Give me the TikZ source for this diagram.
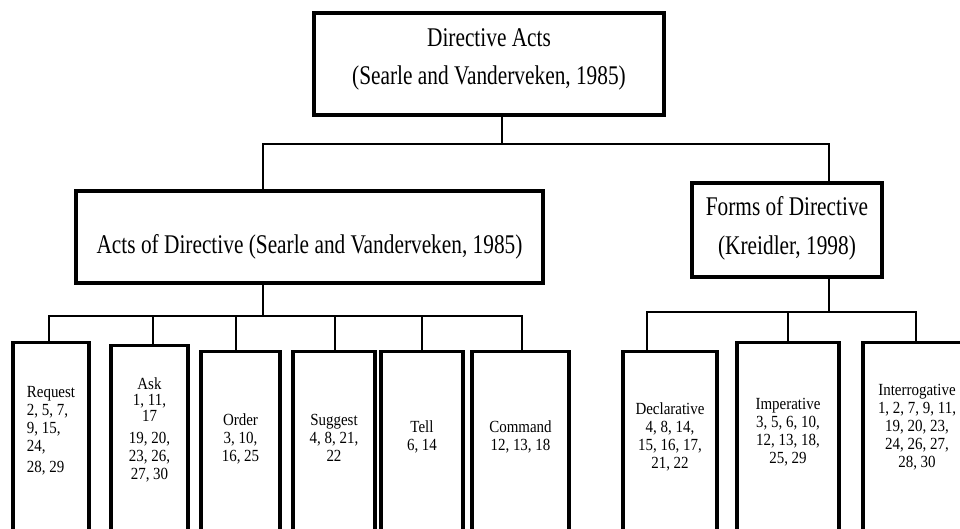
\documentclass[tikz,border=0pt]{standalone}
\usepackage{fontspec}
\setmainfont{Liberation Serif}
\newfontfamily\headfont[FakeStretch=0.79]{Liberation Serif}
\newfontfamily\leaffont[FakeStretch=0.88]{Liberation Serif}
\tikzset{
    % the boxes of the tree, drawn with a heavy border
    bigbox/.style={draw, line width=1.6pt, inner sep=0pt},
    leafbox/.style={draw, line width=1.6pt, inner sep=0pt, anchor=north,
                    minimum height=100pt},
    headtext/.style={align=center, inner sep=0pt,
                     font=\headfont\fontsize{13.5}{19}\selectfont},
    leaftext/.style={align=center, inner sep=0pt,
                     font=\leaffont\fontsize{8.5}{9}\selectfont},
    link/.style={line width=0.65pt}
}

\begin{document}
\begin{tikzpicture}[x=0.5pt,y=-0.5pt]

  \useasboundingbox (0,0) rectangle (960,529);
  \clip (0,0) rectangle (960,529);

  \node[bigbox, minimum width=175pt, minimum height=51pt] (top) at (489,64) {};
  \node[headtext] (toptext) at (489,59) {Directive Acts\\(Searle and Vanderveken, 1985)};

  \node[bigbox, minimum width=233.5pt, minimum height=46pt] (acts) at (309.5,237) {};
  \node[headtext] (actstext) at (309.5,246.5) {Acts of Directive (Searle and Vanderveken, 1985)};

  \node[bigbox, minimum width=95pt, minimum height=47pt] (forms) at (787,230) {};
  \node[headtext] (formstext) at (787,228) {Forms of Directive\\[0.5pt](Kreidler, 1998)};

  \coordinate (topjoin) at (502,144);
  \coordinate (actsjoin) at (263,316);
  \coordinate (formsjoin) at (829,312);

  % leaves of the acts
  \node[leafbox, minimum width=38pt] (reqbox) at (51,341) {};
  \node[leafbox, minimum width=38.5pt] (askbox) at (149.5,344) {};
  \node[leafbox, minimum width=39.5pt] (orderbox) at (240.5,350) {};
  \node[leafbox, minimum width=41pt] (suggestbox) at (334,350) {};
  \node[leafbox, minimum width=41pt] (tellbox) at (422,350) {};
  \node[leafbox, minimum width=48.5pt] (commandbox) at (520.5,350) {};

  \node[leaftext, align=left] (req) at (51,431) {Request\\2, 5, 7,\\9, 15,\\24,\\[1.5pt]28, 29};
  \node[leaftext] (ask) at (149.5,430) {Ask\\[-1pt]1, 11,\\[-1pt]17\\[2pt]19, 20,\\23, 26,\\27, 30};
  \node[leaftext] (order) at (240.5,438.5) {Order\\3, 10,\\16, 25};
  \node[leaftext] (suggest) at (334,437.5) {Suggest\\4, 8, 21,\\22};
  \node[leaftext] (tell) at (422,436.5) {Tell\\6, 14};
  \node[leaftext] (command) at (520.5,436.5) {Command\\12, 13, 18};

  % leaves of the forms
  \node[leafbox, minimum width=47pt] (declbox) at (670,350) {};
  \node[leafbox, minimum width=51pt] (imperbox) at (788,341) {};
  \node[leafbox, minimum width=54pt] (interbox) at (917,341) {};

  \node[leaftext] (decl) at (670,436.5) {Declarative\\4, 8, 14,\\15, 16, 17,\\21, 22};
  \node[leaftext] (imper) at (788,432) {Imperative\\3, 5, 6, 10,\\12, 13, 18,\\25, 29};
  \node[leaftext] (inter) at (917,427.5) {Interrogative\\1, 2, 7, 9, 11,\\19, 20, 23,\\24, 26, 27,\\28, 30};

  % connectors
  \draw[link] (top.south -| topjoin) -- (topjoin);
  \draw[link] (acts.north -| actsjoin) |- (topjoin);
  \draw[link] (forms.north -| formsjoin) |- (topjoin);
  \draw[link] (acts.south -| actsjoin) -- (actsjoin);
  \draw[link] (forms.south -| formsjoin) -- (formsjoin);
  \foreach \n/\dx in {reqbox/-1, askbox/1.75, orderbox/-2.25, suggestbox/0.5, tellbox/0, commandbox/0.75}
    \draw[link] ([xshift=\dx pt]\n.north) |- (actsjoin);
  \foreach \n/\dx in {declbox/-11.5, imperbox/0, interbox/-0.5}
    \draw[link] ([xshift=\dx pt]\n.north) |- (formsjoin);

\end{tikzpicture}
\end{document}
